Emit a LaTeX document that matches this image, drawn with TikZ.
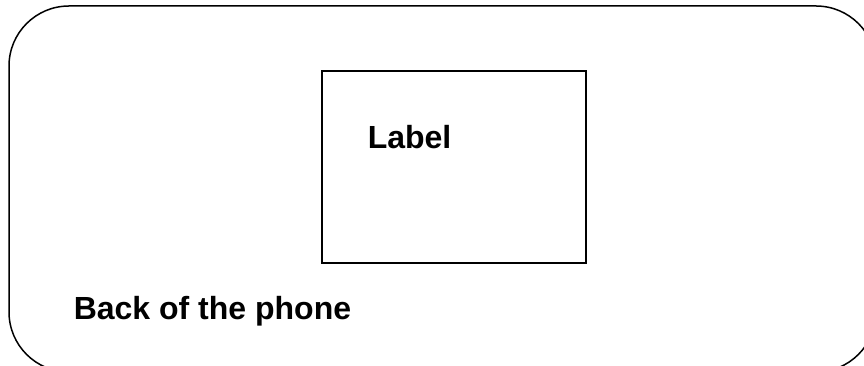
\documentclass[tikz,border=0pt]{standalone}
\usepackage{fontspec}
\setmainfont{Liberation Sans}
\begin{document}
\begin{tikzpicture}[x=1pt,y=1pt,line width=1.5pt]
		\def\fs{\fontsize{32}{38}\selectfont\bfseries}
		\useasboundingbox (0,0) rectangle (864,366);
		\clip (0,0) rectangle (864,366);
		\draw[rounded corners=60pt] (9,-6) rectangle (876,360);
		\node[draw,minimum width=264pt,minimum height=192pt,inner sep=0pt] (sticker) at (454,199) {};
		\node[anchor=base west,inner sep=0pt] (label) at (367,217) {\fs Label};
		\node[anchor=base west,inner sep=0pt] (back) at (73,46) {\fs Back of the phone};
		\end{tikzpicture}
\end{document}
